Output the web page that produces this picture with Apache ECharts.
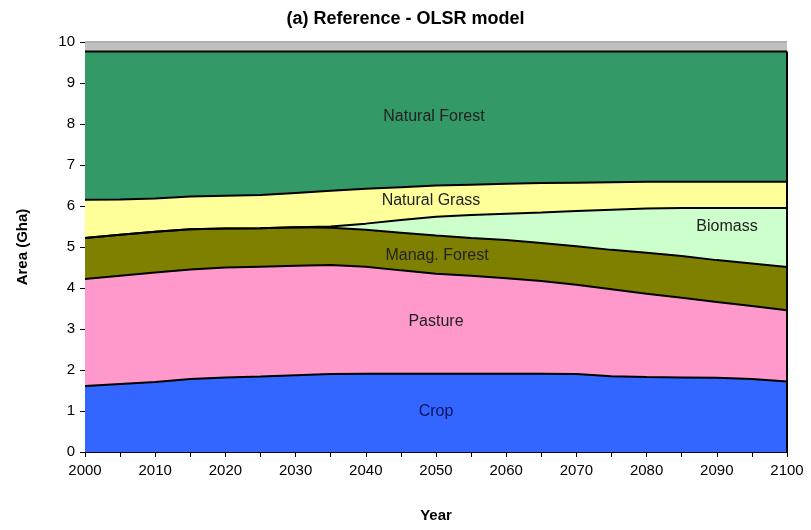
<!DOCTYPE html>
<html>
<head>
<meta charset="utf-8">
<script src="https://cdn.jsdelivr.net/npm/echarts@6/dist/echarts.min.js"></script>
<style>
  html, body { margin: 0; padding: 0; background: #fff; }
  #chart { width: 811px; height: 530px; }
</style>
</head>
<body>
<div id="chart"></div>
<script>
  // years every 5, labels every 10
  const years = ['2000', '2005', '2010', '2015', '2020', '2025', '2030', '2035', '2040', '2045', '2050',
                 '2055', '2060', '2065', '2070', '2075', '2080', '2085', '2090', '2095', '2100']

  // area in Gha (stacked bottom to top)
  const crop        = [1.61, 1.66, 1.71, 1.78, 1.82, 1.84, 1.87, 1.90, 1.91, 1.91, 1.91,
                       1.91, 1.91, 1.91, 1.90, 1.85, 1.83, 1.82, 1.81, 1.78, 1.72]
  const pasture     = [2.61, 2.64, 2.67, 2.67, 2.68, 2.68, 2.67, 2.66, 2.61, 2.52, 2.44,
                       2.39, 2.33, 2.26, 2.18, 2.12, 2.03, 1.94, 1.85, 1.78, 1.74]
  const managForest = [1.00, 1.00, 0.99, 0.98, 0.95, 0.94, 0.94, 0.91, 0.90, 0.92, 0.93,
                       0.92, 0.93, 0.93, 0.94, 0.96, 1.00, 1.02, 1.02, 1.04, 1.05]
  const biomass     = [0, 0, 0, 0, 0, 0, 0, 0.03, 0.15, 0.31, 0.46,
                       0.56, 0.64, 0.74, 0.86, 0.98, 1.08, 1.17, 1.27, 1.35, 1.44]
  const naturalGrass = [0.93, 0.86, 0.81, 0.80, 0.80, 0.81, 0.84, 0.87, 0.85, 0.80, 0.76,
                        0.74, 0.73, 0.72, 0.69, 0.67, 0.65, 0.64, 0.64, 0.64, 0.64]
  const naturalForest = [3.62, 3.61, 3.59, 3.54, 3.52, 3.50, 3.45, 3.40, 3.35, 3.31, 3.27,
                         3.25, 3.23, 3.21, 3.20, 3.19, 3.18, 3.18, 3.18, 3.18, 3.18]
  const other       = [0.23, 0.23, 0.23, 0.23, 0.23, 0.23, 0.23, 0.23, 0.23, 0.23, 0.23,
                       0.23, 0.23, 0.23, 0.23, 0.23, 0.23, 0.23, 0.23, 0.23, 0.23]

  // outline at the right end of the areas (top of natural forest)
  const edgeTop = 9.77

  const font = '"Liberation Sans", Arial, sans-serif'

  function areaSeries (name, vals, color, lineColor) {
    return {
      name,
      type: 'line',
      stack: 'land',
      data: vals,
      showSymbol: false,
      symbol: 'none',
      silent: true,
      animation: false,
      lineStyle: { color: lineColor, width: 2 },
      areaStyle: { color, opacity: 1 }
    }
  }

  const chart = echarts.init(document.getElementById('chart'))

  const series = [
    areaSeries('Crop', crop, '#3366ff', '#000'),
    areaSeries('Pasture', pasture, '#ff99cc', '#000'),
    areaSeries('Manag. Forest', managForest, '#808000', '#000'),
    areaSeries('Biomass', biomass, '#ccffcc', '#000'),
    areaSeries('Natural Grass', naturalGrass, '#ffff99', '#000'),
    areaSeries('Natural Forest', naturalForest, '#339966', '#000'),
    areaSeries('Other', other, '#c0c0c0', '#b0b0b0')
  ]
  series[0].markLine = {
    silent: true,
    symbol: 'none',
    animation: false,
    z: 10,
    label: { show: false },
    lineStyle: { color: '#000', width: 2, type: 'solid' },
    data: [[{ coord: [years[years.length - 1], 0] }, { coord: [years[years.length - 1], edgeTop] }]]
  }

  const label = (x, y, text, color) => ({
    type: 'text',
    x,
    y,
    z: 100,
    style: { text, fill: color || '#222', font: '16px ' + font, align: 'center', verticalAlign: 'middle' }
  })

  const option = {
    backgroundColor: '#fff',
    title: {
      text: '(a) Reference - OLSR model',
      left: 'center',
      top: 5,
      textStyle: { fontFamily: font, fontSize: 18, fontWeight: 'bold', color: '#000' }
    },
    grid: { left: 85, right: 24, top: 42, bottom: 78 },
    xAxis: {
      type: 'category',
      data: years,
      boundaryGap: false,
      name: 'Year',
      nameLocation: 'middle',
      nameGap: 56,
      nameTextStyle: { fontFamily: font, fontSize: 15, fontWeight: 'bold', color: '#000' },
      axisLine: { lineStyle: { color: '#000', width: 1 } },
      axisTick: { show: true, interval: 0, length: 5, lineStyle: { color: '#000' } },
      axisLabel: { fontFamily: font, fontSize: 15, color: '#000', margin: 11, interval: 1 },
      splitLine: { show: false }
    },
    yAxis: {
      type: 'value',
      min: 0,
      max: 10,
      interval: 1,
      name: 'Area (Gha)',
      nameLocation: 'middle',
      nameGap: 55,
      nameTextStyle: { fontFamily: font, fontSize: 15, fontWeight: 'bold', color: '#000' },
      axisLine: { show: true, lineStyle: { color: '#000', width: 1 } },
      axisTick: { show: true, length: 5, lineStyle: { color: '#000' } },
      axisLabel: { fontFamily: font, fontSize: 15, color: '#000', margin: 10 },
      splitLine: { show: false }
    },
    graphic: [
      label(434, 117, 'Natural Forest'),
      label(431, 201, 'Natural Grass'),
      label(727, 227, 'Biomass'),
      label(437, 256, 'Manag. Forest'),
      label(436, 322, 'Pasture'),
      label(436, 412, 'Crop', '#101060')
    ],
    series
  }

  chart.setOption(option)
</script>
</body>
</html>
